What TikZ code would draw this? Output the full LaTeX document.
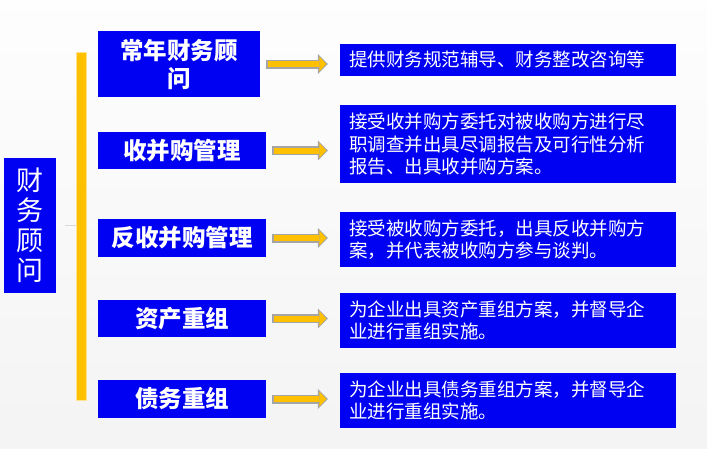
\documentclass[tikz,border=0pt]{standalone}
\usepackage{fontspec}
\newfontfamily\cjk{Noto Sans CJK SC}
\usetikzlibrary{arrows.meta}
\definecolor{boxblue}{RGB}{0,0,242}
\definecolor{baryellow}{RGB}{255,192,0}
\definecolor{arrowgray}{RGB}{165,165,165}
\tikzset{
  rootbox/.style={fill=boxblue, text=white, minimum width=52pt, minimum height=135pt, inner sep=0pt, align=center, font=\cjk\fontsize{27}{30}\selectfont},
  catbox/.style={fill=boxblue, text=white, minimum width=168pt, minimum height=37pt, inner sep=2pt, align=center, font=\cjk\bfseries\fontsize{23.5}{28}\selectfont},
  descbox/.style={fill=boxblue, text=white, minimum width=336pt, minimum height=55pt, text width=318pt, inner xsep=9pt, inner ysep=2pt, align=left, font=\cjk\fontsize{18.5}{22.5}\selectfont},
  barbox/.style={fill=baryellow, draw=white!55!baryellow, line width=0.8pt, minimum width=10pt, minimum height=348pt, inner sep=0pt},
  tickline/.style={draw=gray!30, line width=1.3pt},
  fatarrow/.style={draw=arrowgray, line width=9pt, shorten <=6pt, shorten >=12pt,
    -{Triangle[length=10pt,width=20pt,line width=0pt]},
    postaction={draw=baryellow, line width=6pt, shorten <=7.5pt, shorten >=13.5pt,
      -{Triangle[length=7pt,width=15pt,line width=0pt]}}}
}
\begin{document}
\begin{tikzpicture}[x=1pt,y=-1pt]
\useasboundingbox (0,0) rectangle (707,448);
%% background
\shade[top color=gray!1, bottom color=gray!9] (0,0) rectangle (707,448);
%% root and bar
\node[rootbox] (root) at (30,225.5) {财\\务\\顾\\问};
\node[barbox] (bar) at (81,226) {};
\draw[tickline, shorten <=9pt] (root.east) -- (root.east -| bar.west);
%% categories
\node[catbox, minimum width=162pt, minimum height=66pt] (c1) at (179,64) {常年财务顾\\问};
\node[catbox] (c2) at (182,150.5) {收并购管理};
\node[catbox, minimum height=38pt] (c3) at (182,238) {反收并购管理};
\node[catbox] (c4) at (182,318.5) {资产重组};
\node[catbox, minimum height=38pt] (c5) at (182,399) {债务重组};
%% descriptions
\node[descbox, minimum height=32pt] (d1) at (508,60) {提供财务规范辅导、财务整改咨询等};
\node[descbox, minimum height=78pt] (d2) at (508,144) {接受收并购方委托对被收购方进行尽\\职调查并出具尽调报告及可行性分析\\报告、出具收并购方案。};
\node[descbox] (d3) at (508,239.5) {接受被收购方委托，出具反收并购方\\案，并代表被收购方参与谈判。};
\node[descbox] (d4) at (508,320.5) {为企业出具资产重组方案，并督导企\\业进行重组实施。};
\node[descbox] (d5) at (508,400.5) {为企业出具债务重组方案，并督导企\\业进行重组实施。};
%% arrows
\foreach \i in {1,...,5}
  \draw[fatarrow] (c\i.east) -- (c\i.east -| d\i.west);
\end{tikzpicture}
\end{document}
